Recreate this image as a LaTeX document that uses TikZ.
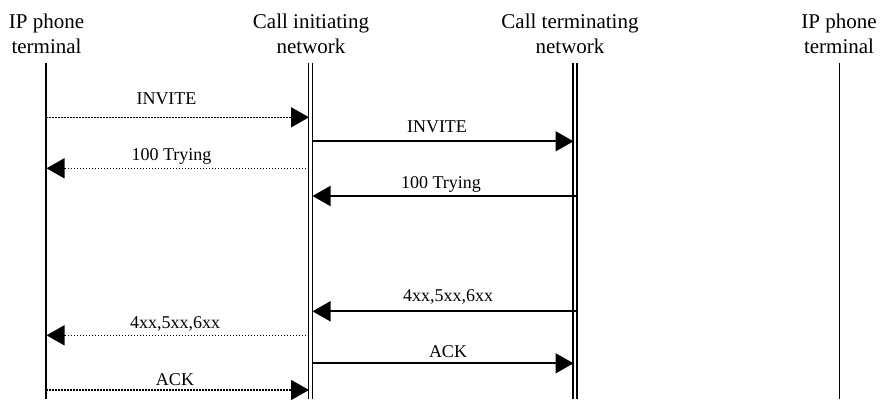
\documentclass[tikz,border=0pt]{standalone}
\usepackage{fontspec}
\setmainfont{Liberation Serif}
\usetikzlibrary{arrows.meta}
\begin{document}
\begin{tikzpicture}[x=1pt,y=-1pt,
  head/.style={inner sep=0pt, align=center, anchor=north, font=\fontsize{21}{24.5}\selectfont},
  lbl/.style={inner sep=0pt, anchor=base, font=\fontsize{18}{20}\selectfont},
  life/.style={line width=1.7pt},
  dlife/.style={double, double distance=2.6pt, line width=1.5pt},
  tip/.style={-{Triangle[length=18pt,width=20pt]}},
  sol/.style={tip, line width=1.7pt},
  dot/.style={tip, line width=1.5pt, dash pattern=on 1.5pt off 1.5pt}]
\useasboundingbox (0,0) rectangle (881,399);
% headings
\node[head] (h1) at (46.5,14) {IP phone\\terminal};
\node[head] (h2) at (311,14) {Call initiating\\network};
\node[head] (h3) at (570,14) {Call terminating\\network};
\node[head] (h4) at (839,14) {IP phone\\terminal};
% lifelines
\coordinate (Lt) at (46,63);  \coordinate (Lb) at (46,399);
\coordinate (It) at (310.5,63); \coordinate (Ib) at (310.5,399);
\coordinate (Tt) at (575,63); \coordinate (Tb) at (575,399);
\coordinate (Rt) at (839.5,63); \coordinate (Rb) at (839.5,399);
\draw[life] (Lt) -- (Lb);
\draw[life] (Rt) -- (Rb);
\draw[dlife] (It) -- (Ib);
\draw[dlife] (Tt) -- (Tb);
% endpoints
\coordinate (a1s) at (46,117.3);  \coordinate (a1e) at (309,117.3);
\coordinate (a2s) at (312,141.3); \coordinate (a2e) at (573.5,141.3);
\coordinate (a3s) at (309,168.3); \coordinate (a3e) at (46.5,168.3);
\coordinate (a4s) at (576,196);   \coordinate (a4e) at (312.5,196);
\coordinate (a5s) at (576,311.3); \coordinate (a5e) at (312.5,311.3);
\coordinate (a6s) at (309,335.3); \coordinate (a6e) at (46.5,335.3);
\coordinate (a7s) at (312,363.3); \coordinate (a7e) at (573.5,363.3);
\coordinate (a8s) at (46,390);    \coordinate (a8e) at (309,390);
% messages
\draw[dot] (a1s) -- (a1e);
\node[lbl] (m1) at (166.5,104) {INVITE};
\draw[sol] (a2s) -- (a2e);
\node[lbl] (m2) at (437,132.7) {INVITE};
\draw[dot] (a3s) -- (a3e);
\node[lbl] (m3) at (171.5,160) {100 Trying};
\draw[sol] (a4s) -- (a4e);
\node[lbl] (m4) at (441,188.3) {100 Trying};
\draw[sol] (a5s) -- (a5e);
\node[lbl] (m5) at (448,301.7) {4xx,5xx,6xx};
\draw[dot] (a6s) -- (a6e);
\node[lbl] (m6) at (175,328.3) {4xx,5xx,6xx};
\draw[sol] (a7s) -- (a7e);
\node[lbl] (m7) at (448,357.3) {ACK};
\draw[dot] (a8s) -- (a8e);
\node[lbl] (m8) at (175,385) {ACK};
\end{tikzpicture}
\end{document}
